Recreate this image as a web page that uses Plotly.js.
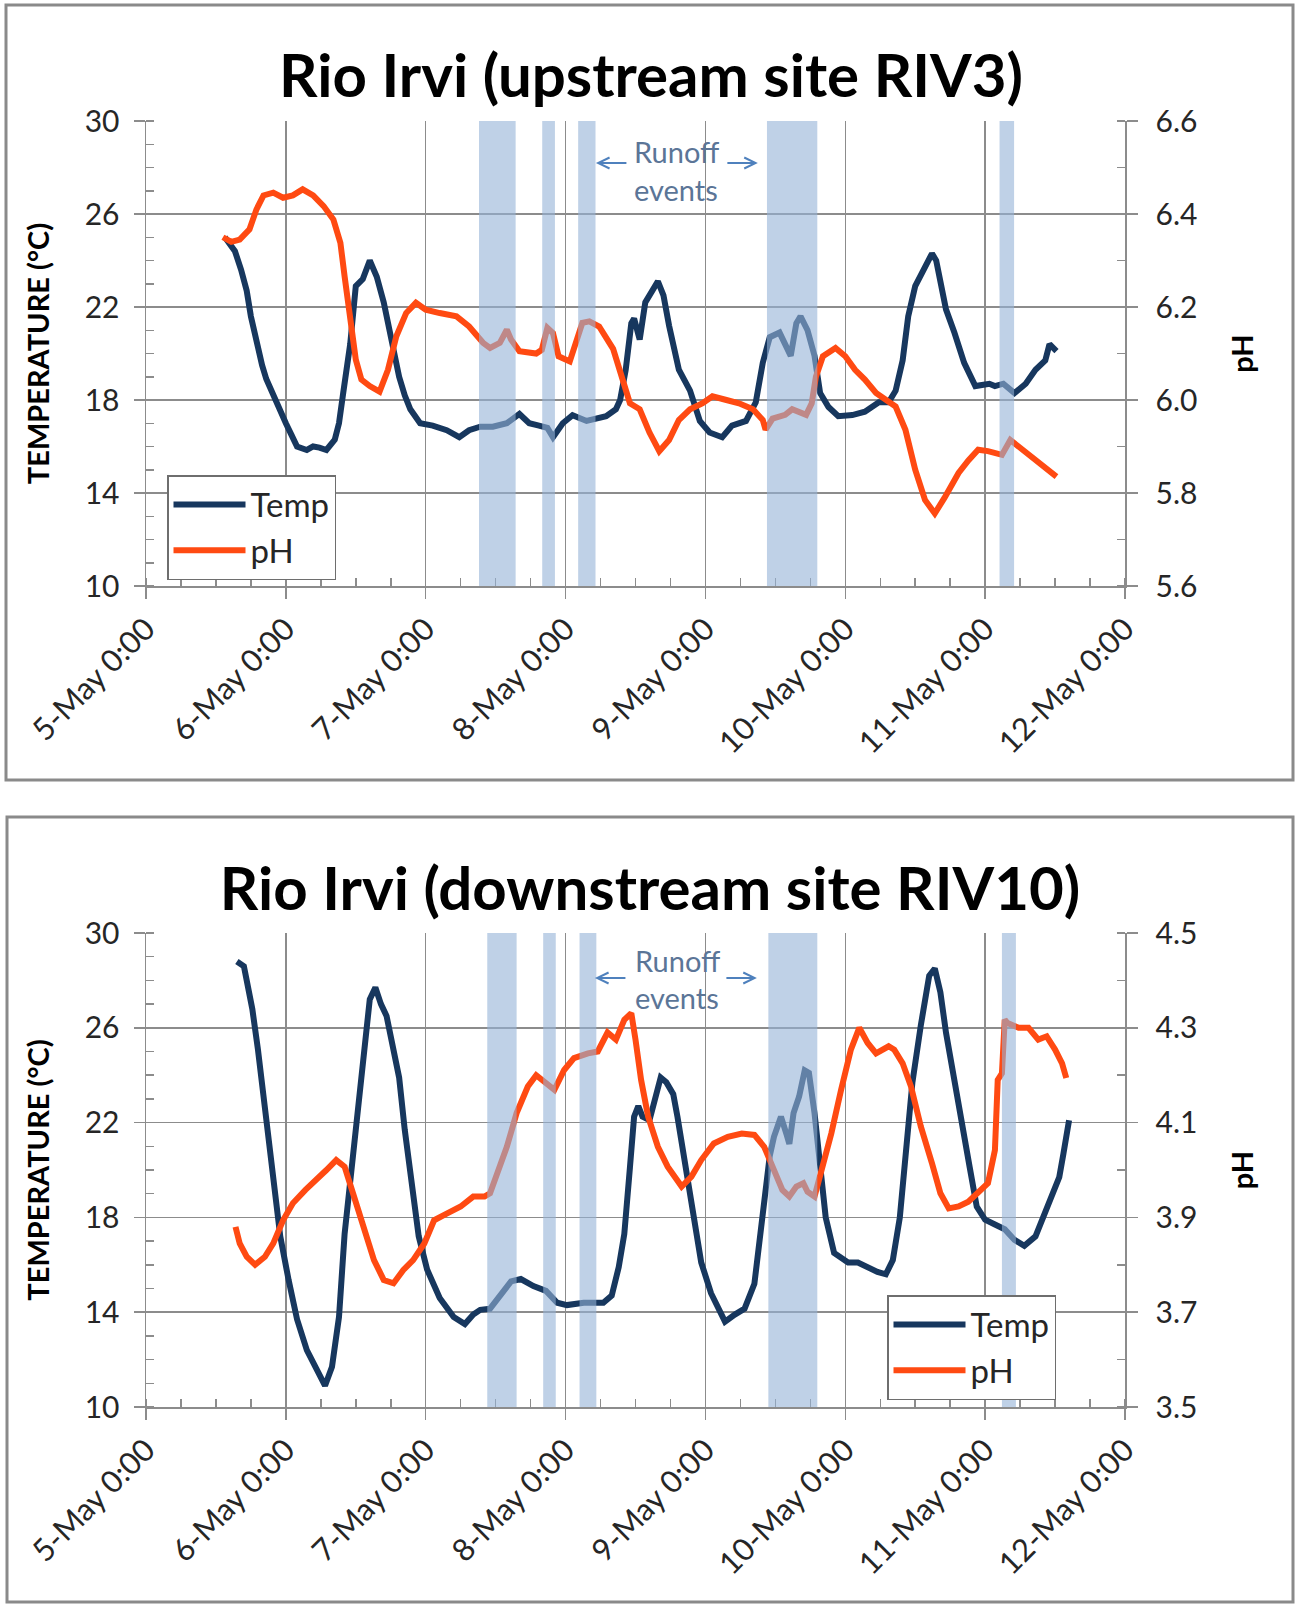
<!DOCTYPE html>
<html>
<head>
<meta charset="utf-8">
<script src="https://cdn.plot.ly/plotly-3.0.1.min.js"></script>
<style>
  html, body { margin: 0; padding: 0; background: #ffffff; }
  #top { width: 1300px; height: 800px; }
  #bot { width: 1300px; height: 809px; }
</style>
</head>
<body>
<div id="top"></div>
<div id="bot"></div>
<script>
// ---------- DATA (time = day of May, fractional) ----------
const xTickVals = [5, 6, 7, 8, 9, 10, 11, 12];
const xTickLabels = ['5-May 0:00', '6-May 0:00', '7-May 0:00', '8-May 0:00', '9-May 0:00', '10-May 0:00', '11-May 0:00', '12-May 0:00'];

// Upstream site RIV3
const upTempTime = [5.564,5.60,5.636,5.68,5.72,5.75,5.79,5.83,5.86,5.93,6.0,6.04,6.08,6.15,6.195,6.24,6.29,6.35,6.38,6.41,6.46,6.5,6.55,6.6,6.65,6.7,6.74,6.78,6.81,6.85,6.89,6.96,7.05,7.15,7.24,7.31,7.39,7.48,7.58,7.67,7.74,7.81,7.87,7.91,7.98,8.05,8.15,8.29,8.36,8.39,8.43,8.47,8.49,8.53,8.57,8.6,8.66,8.7,8.74,8.81,8.89,8.96,9.03,9.12,9.19,9.29,9.36,9.41,9.46,9.53,9.57,9.61,9.65,9.68,9.73,9.78,9.82,9.88,9.95,10.05,10.14,10.24,10.31,10.36,10.41,10.45,10.5,10.56,10.62,10.65,10.69,10.72,10.78,10.85,10.93,11.03,11.07,11.13,11.21,11.29,11.36,11.43,11.46,11.51];
const upTemp = [25.0,24.7,24.4,23.6,22.7,21.6,20.4,19.5,18.9,17.9,17.0,16.5,16.0,15.85,16.0,15.95,15.85,16.3,17.0,18.3,20.4,22.9,23.2,24.0,23.3,22.2,21.0,19.8,19.0,18.2,17.6,17.0,16.9,16.7,16.4,16.7,16.85,16.85,17.0,17.4,17.0,16.9,16.8,16.4,17.0,17.35,17.1,17.3,17.6,18.0,19.3,21.3,21.5,20.6,22.2,22.5,23.1,22.5,21.2,19.3,18.4,17.1,16.6,16.4,16.9,17.1,17.9,19.6,20.7,20.9,20.4,19.9,21.3,21.6,21.0,19.9,18.3,17.7,17.3,17.35,17.5,17.9,17.9,18.4,19.7,21.6,22.9,23.6,24.3,24.0,22.7,21.9,20.9,19.6,18.6,18.7,18.6,18.7,18.3,18.7,19.3,19.7,20.4,20.1];
const upPhTime = [5.55,5.61,5.67,5.74,5.79,5.84,5.91,5.98,6.05,6.12,6.195,6.27,6.34,6.39,6.42,6.46,6.5,6.54,6.6,6.67,6.73,6.79,6.86,6.93,7.0,7.1,7.22,7.31,7.41,7.46,7.53,7.58,7.61,7.67,7.79,7.83,7.87,7.91,7.95,8.03,8.08,8.12,8.17,8.24,8.34,8.41,8.46,8.53,8.6,8.67,8.74,8.81,8.89,8.98,9.05,9.15,9.24,9.34,9.41,9.43,9.48,9.57,9.62,9.72,9.76,9.79,9.84,9.93,10.0,10.07,10.14,10.22,10.29,10.36,10.43,10.5,10.57,10.64,10.71,10.81,10.88,10.95,11.02,11.12,11.18,11.24,11.33,11.43,11.51];
const upPh = [6.35,6.34,6.345,6.367,6.41,6.44,6.446,6.435,6.44,6.453,6.44,6.417,6.388,6.338,6.266,6.18,6.087,6.044,6.03,6.018,6.065,6.137,6.187,6.209,6.194,6.187,6.18,6.158,6.123,6.112,6.123,6.151,6.13,6.105,6.1,6.108,6.155,6.144,6.094,6.083,6.13,6.166,6.169,6.158,6.11,6.044,5.993,5.98,5.93,5.89,5.914,5.957,5.98,5.993,6.008,6.0,5.993,5.98,5.957,5.936,5.96,5.968,5.98,5.968,5.993,6.05,6.094,6.112,6.094,6.065,6.044,6.015,6.0,5.986,5.936,5.85,5.785,5.756,5.79,5.843,5.87,5.893,5.89,5.882,5.914,5.9,5.879,5.853,5.835];
const upRunoffStart = [7.381, 7.833, 8.09, 9.44, 11.103];
const upRunoffEnd   = [7.643, 7.924, 8.214, 9.80, 11.207];

// Downstream site RIV10
const dnTempTime = [5.65,5.70,5.72,5.76,5.80,5.85,5.90,5.96,6.02,6.08,6.15,6.22,6.28,6.33,6.38,6.42,6.47,6.52,6.57,6.6,6.64,6.68,6.72,6.76,6.81,6.85,6.9,6.95,7.01,7.1,7.2,7.28,7.34,7.39,7.46,7.53,7.61,7.68,7.77,7.86,7.94,8.01,8.13,8.27,8.33,8.38,8.42,8.46,8.49,8.52,8.55,8.6,8.65,8.68,8.72,8.77,8.8,8.85,8.9,8.97,9.04,9.14,9.21,9.28,9.35,9.41,9.46,9.49,9.54,9.58,9.6,9.63,9.67,9.71,9.74,9.78,9.82,9.86,9.92,10.02,10.09,10.16,10.23,10.29,10.34,10.39,10.44,10.48,10.54,10.6,10.64,10.68,10.72,10.78,10.84,10.89,10.94,11.0,11.07,11.14,11.21,11.28,11.36,11.43,11.49,11.53,11.56,11.58,11.6];
const dnTemp = [28.8,28.6,28.0,26.8,25.1,22.7,19.9,17.2,15.35,13.7,12.4,11.55,10.9,11.7,13.8,17.3,20.1,23.2,26.1,27.2,27.7,27.0,26.5,25.35,23.9,21.7,19.4,17.2,15.8,14.6,13.8,13.5,13.9,14.1,14.15,14.7,15.3,15.4,15.1,14.9,14.4,14.3,14.4,14.4,14.7,15.9,17.3,20.1,22.25,22.7,22.25,22.1,23.2,23.9,23.7,23.2,22.25,20.4,18.3,16.1,14.8,13.6,13.9,14.15,15.2,17.9,20.6,21.4,22.25,21.5,21.1,22.4,23.1,24.2,24.1,22.4,20.1,18.0,16.5,16.1,16.1,15.9,15.7,15.6,16.2,18.0,20.85,23.7,26.1,28.2,28.5,27.5,25.8,23.9,21.8,20.1,18.45,17.9,17.7,17.5,17.05,16.8,17.2,18.2,19.15,19.7,20.7,21.5,22.1];
const dnPhTime = [5.64,5.67,5.72,5.78,5.85,5.91,5.98,6.05,6.14,6.22,6.29,6.36,6.42,6.48,6.56,6.63,6.7,6.77,6.84,6.91,6.99,7.06,7.15,7.25,7.34,7.42,7.46,7.51,7.58,7.65,7.73,7.79,7.84,7.92,7.99,8.06,8.16,8.23,8.3,8.36,8.42,8.47,8.5,8.54,8.59,8.66,8.73,8.83,8.9,8.97,9.06,9.16,9.26,9.35,9.42,9.49,9.55,9.6,9.65,9.7,9.73,9.78,9.83,9.9,9.97,10.04,10.1,10.16,10.22,10.31,10.35,10.41,10.47,10.54,10.62,10.68,10.74,10.81,10.88,10.95,11.02,11.05,11.07,11.09,11.12,11.14,11.16,11.24,11.31,11.38,11.44,11.5,11.55,11.58];
const dnPh = [3.88,3.845,3.817,3.80,3.817,3.845,3.894,3.93,3.958,3.979,4.0,4.021,4.007,3.951,3.873,3.81,3.768,3.761,3.789,3.81,3.845,3.894,3.908,3.923,3.944,3.944,3.951,3.993,4.049,4.12,4.176,4.2,4.187,4.169,4.211,4.236,4.246,4.25,4.29,4.275,4.317,4.331,4.275,4.19,4.113,4.049,4.007,3.965,3.986,4.021,4.056,4.07,4.077,4.074,4.049,4.0,3.958,3.944,3.965,3.972,3.954,3.944,4.0,4.077,4.169,4.254,4.3,4.268,4.246,4.261,4.254,4.225,4.176,4.092,4.014,3.951,3.919,3.923,3.933,3.951,3.972,4.014,4.042,4.19,4.204,4.317,4.31,4.3,4.3,4.275,4.282,4.254,4.225,4.194];
const dnRunoffStart = [7.44, 7.84, 8.10, 9.45, 11.12];
const dnRunoffEnd   = [7.65, 7.93, 8.22, 9.80, 11.22];

const seriesNames = ['Temp', 'pH'];
const titles = ['Rio Irvi (upstream site RIV3)', 'Rio Irvi (downstream site RIV10)'];

// ---------- STYLE ----------
const FONT = 'Lato, "Open Sans", "DejaVu Sans", sans-serif';
const TEMP_COLOR = '#17375e';
const PH_COLOR = '#ff4a12';
const GRID = '#8c8c8c';
const TXT = '#262626';
const BAND = '#95b3d7';
const ARROW = '#4f81bd';

function buildChart(divId, cfg) {
  const W = 1300, H = cfg.height;
  const m = cfg.margin;
  const pw = W - m.l - m.r, ph = H - m.t - m.b;
  const px2paperX = px => (px - m.l) / pw;
  const px2paperY = py => (H - m.b - py) / ph;

  const traces = [
    { x: cfg.tempTime, y: cfg.temp, name: seriesNames[0], type: 'scatter', mode: 'lines',
      line: { color: TEMP_COLOR, width: 6 }, yaxis: 'y', legendgroup: 'a', legend: 'legend' },
    { x: cfg.phTime, y: cfg.ph, name: seriesNames[1], type: 'scatter', mode: 'lines',
      line: { color: PH_COLOR, width: 6 }, yaxis: 'y2', legendgroup: 'b', legend: 'legend' }
  ];

  const shapes = [];
  for (let i = 0; i < cfg.bandStart.length; i++) {
    shapes.push({ type: 'rect', xref: 'x', yref: 'paper', x0: cfg.bandStart[i], x1: cfg.bandEnd[i],
      y0: 0, y1: 1, fillcolor: BAND, opacity: 0.6, line: { width: 0 }, layer: 'above' });
  }
  // panel border
  shapes.push({ type: 'rect', xref: 'paper', yref: 'paper',
    x0: px2paperX(cfg.border[0]), x1: px2paperX(cfg.border[2]),
    y0: px2paperY(cfg.border[3]), y1: px2paperY(cfg.border[1]),
    line: { color: '#8a8a8a', width: 3 }, fillcolor: 'rgba(0,0,0,0)', layer: 'below' });

  const annotations = [
    { xref: 'x', yref: 'paper', x: cfg.runoffX, y: px2paperY(cfg.runoffY[0]), text: 'Runoff',
      showarrow: false, font: { family: FONT, size: 29, color: '#5b7597' }, xanchor: 'center', yanchor: 'middle' },
    { xref: 'x', yref: 'paper', x: cfg.runoffX, y: px2paperY(cfg.runoffY[1]), text: 'events',
      showarrow: false, font: { family: FONT, size: 29, color: '#5b7597' }, xanchor: 'center', yanchor: 'middle' },
    { xref: 'x', yref: 'paper', x: cfg.arrowTips[0], y: px2paperY(cfg.arrowY), text: '',
      showarrow: true, arrowhead: 5, arrowsize: 1.1, arrowwidth: 2, arrowcolor: ARROW, axref: 'pixel', ayref: 'pixel', ax: 32, ay: 0 },
    { xref: 'x', yref: 'paper', x: cfg.arrowTips[1], y: px2paperY(cfg.arrowY), text: '',
      showarrow: true, arrowhead: 5, arrowsize: 1.1, arrowwidth: 2, arrowcolor: ARROW, axref: 'pixel', ayref: 'pixel', ax: -32, ay: 0 }
  ];

  const layout = {
    width: W, height: H,
    margin: m,
    paper_bgcolor: '#ffffff', plot_bgcolor: '#ffffff',
    font: { family: FONT, color: TXT },
    title: { text: cfg.title, font: { family: FONT, size: 60, weight: 'bold', color: '#000000' },
      x: cfg.titleX / W, xref: 'container', xanchor: 'center', y: 1 - cfg.titleY / H, yref: 'container', yanchor: 'middle' },
    showlegend: true,
    legend: { x: px2paperX(cfg.legendPos[0]), y: px2paperY(cfg.legendPos[1]), xanchor: 'left', yanchor: 'top',
      bgcolor: '#ffffff', bordercolor: '#6e6e6e', borderwidth: 1.5, font: { family: FONT, size: 33, color: TXT },
      tracegroupgap: 0, itemwidth: 72 },
    xaxis: {
      range: [5, 12], tickmode: 'array', tickvals: xTickVals, ticktext: xTickLabels,
      tickangle: -45, tickfont: { family: FONT, size: 31, color: TXT },
      ticks: 'outside', ticklen: 11, tickwidth: 1.5, tickcolor: GRID,
      showgrid: true, gridcolor: GRID, gridwidth: 1.5,
      showline: true, linecolor: GRID, linewidth: 1.5, zeroline: false,
      minor: { ticks: 'inside', ticklen: 8, tickwidth: 1.5, tickcolor: GRID, tick0: 5, dtick: 0.25, showgrid: false }
    },
    yaxis: {
      range: [10, 30], tick0: 10, dtick: 4, tickfont: { family: FONT, size: 30, color: TXT },
      ticks: 'outside', ticklen: 11, tickwidth: 1.5, tickcolor: GRID, ticklabelstandoff: 8,
      showgrid: true, gridcolor: GRID, gridwidth: 1.5,
      showline: true, linecolor: GRID, linewidth: 1.5, zeroline: false,
      minor: { ticks: 'inside', ticklen: 8, tickwidth: 1.5, tickcolor: GRID, tick0: 10, dtick: 1, showgrid: false },
      title: { text: 'TEMPERATURE (°C)', font: { family: FONT, size: 29, weight: 'bold', color: '#000000' }, standoff: 26 }
    },
    yaxis2: {
      overlaying: 'y', side: 'right', range: cfg.phRange, tick0: cfg.phRange[0], dtick: 0.2, tickformat: '.1f',
      tickfont: { family: FONT, size: 30, color: TXT },
      ticks: 'outside', ticklen: 11, tickwidth: 1.5, tickcolor: GRID, ticklabelstandoff: 12,
      showgrid: false, showline: true, linecolor: GRID, linewidth: 1.5, zeroline: false,
      minor: { ticks: 'inside', ticklen: 8, tickwidth: 1.5, tickcolor: GRID, tick0: cfg.phRange[0], dtick: 0.1, showgrid: false },
      title: { text: 'pH', font: { family: FONT, size: 29, weight: 'bold', color: '#000000' }, standoff: 36 }
    },
    shapes: shapes,
    annotations: annotations
  };

  Plotly.newPlot(divId, traces, layout, { displayModeBar: false, staticPlot: true });
}

buildChart('top', {
  height: 800,
  margin: { l: 146, r: 175, t: 121, b: 214 },
  tempTime: upTempTime, temp: upTemp, phTime: upPhTime, ph: upPh,
  bandStart: upRunoffStart, bandEnd: upRunoffEnd,
  phRange: [5.6, 6.6],
  title: titles[0], titleX: 651, titleY: 76,
  border: [6, 5, 1293, 780],
  legendPos: [167, 475],
  runoffX: 8.79, runoffY: [151, 189],
  arrowTips: [8.217, 9.375], arrowY: 163
});

buildChart('bot', {
  height: 809,
  margin: { l: 146, r: 175, t: 133, b: 202 },
  tempTime: dnTempTime, temp: dnTemp, phTime: dnPhTime, ph: dnPh,
  bandStart: dnRunoffStart, bandEnd: dnRunoffEnd,
  phRange: [3.5, 4.5],
  title: titles[1], titleX: 650, titleY: 89,
  border: [7, 17, 1293, 802],
  legendPos: [887, 495],
  runoffX: 8.80, runoffY: [160, 197],
  arrowTips: [8.21, 9.368], arrowY: 178
});
</script>
</body>
</html>
